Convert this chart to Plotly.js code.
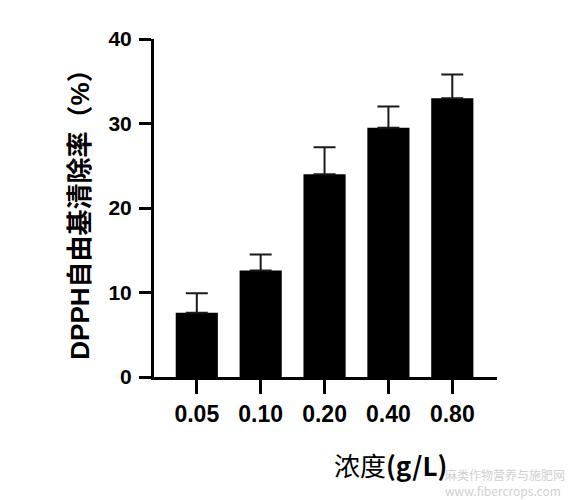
<!DOCTYPE html>
<html>
<head>
<meta charset="utf-8">
<script src="https://cdn.plot.ly/plotly-3.0.1.min.js"></script>
<style>
  html, body { margin: 0; padding: 0; background: #fff; }
  #chart { width: 570px; height: 500px; box-sizing: border-box; border-right: 2px solid #000; border-bottom: 2px solid #000; }
</style>
</head>
<body>
<div id="chart"></div>
<script>
// Data
const categories = ["0.05", "0.10", "0.20", "0.40", "0.80"];
const scavengingRate = [7.6, 12.6, 24.0, 29.5, 33.0];
const errorUp = [2.3, 1.9, 3.2, 2.5, 2.8];
const yTickVals = [0, 10, 20, 30, 40];

const yTitle = "DPPH自由基清除率（%）";
const xTitle = "浓度<b>(g/L)</b>";
const watermark = "麻类作物营养与施肥网<br>www.fibercrops.com";

const latin = "'Liberation Sans', Arial, 'Noto Sans CJK SC', sans-serif";

const trace = {
  type: "bar",
  x: categories,
  y: scavengingRate,
  marker: { color: "#000000", line: { width: 0 } },
  error_y: {
    type: "data",
    symmetric: false,
    array: errorUp,
    arrayminus: errorUp.map(() => 0),
    color: "#1a1a1a",
    thickness: 2,
    width: 11
  },
  hoverinfo: "skip"
};

const layout = {
  width: 570,
  height: 500,
  margin: { l: 154, r: 73, t: 39, b: 123, pad: 0 },
  paper_bgcolor: "#ffffff",
  plot_bgcolor: "#ffffff",
  showlegend: false,
  bargap: 0.34,
  xaxis: {
    type: "category",
    range: [-0.67, 4.7],
    showgrid: false,
    zeroline: false,
    showline: true,
    linecolor: "#000",
    linewidth: 3,
    ticks: "outside",
    ticklen: 14,
    tickwidth: 3,
    tickcolor: "#000",
    tickfont: { family: latin, size: 23, color: "#000", weight: "bold" },
    ticklabelstandoff: 0
  },
  yaxis: {
    range: [0, 40],
    tickvals: yTickVals,
    showgrid: false,
    zeroline: false,
    showline: true,
    linecolor: "#000",
    linewidth: 3,
    ticks: "outside",
    ticklen: 12,
    tickwidth: 3,
    tickcolor: "#000",
    tickfont: { family: latin, size: 21, color: "#000", weight: "bold" },
    ticklabelstandoff: 3,
    title: {
      text: yTitle,
      font: { family: latin, size: 26, color: "#000", weight: "bold" },
      standoff: 12
    }
  },
  annotations: [
    {
      text: xTitle,
      xref: "paper", yref: "paper",
      x: 0.52, y: -0.26,
      xanchor: "left", yanchor: "middle",
      showarrow: false,
      font: { family: "'Noto Sans CJK SC', 'Liberation Sans', sans-serif", size: 26, color: "#000" }
    },
    {
      text: watermark,
      xref: "paper", yref: "paper",
      x: 1.205, y: -0.312,
      xanchor: "right", yanchor: "middle",
      align: "left",
      showarrow: false,
      font: { family: "'Noto Sans CJK SC', 'DejaVu Sans', sans-serif", size: 12, color: "#d0d0d0" }
    }
  ]
};

Plotly.newPlot("chart", [trace], layout, { displayModeBar: false, staticPlot: true });
</script>
</body>
</html>
